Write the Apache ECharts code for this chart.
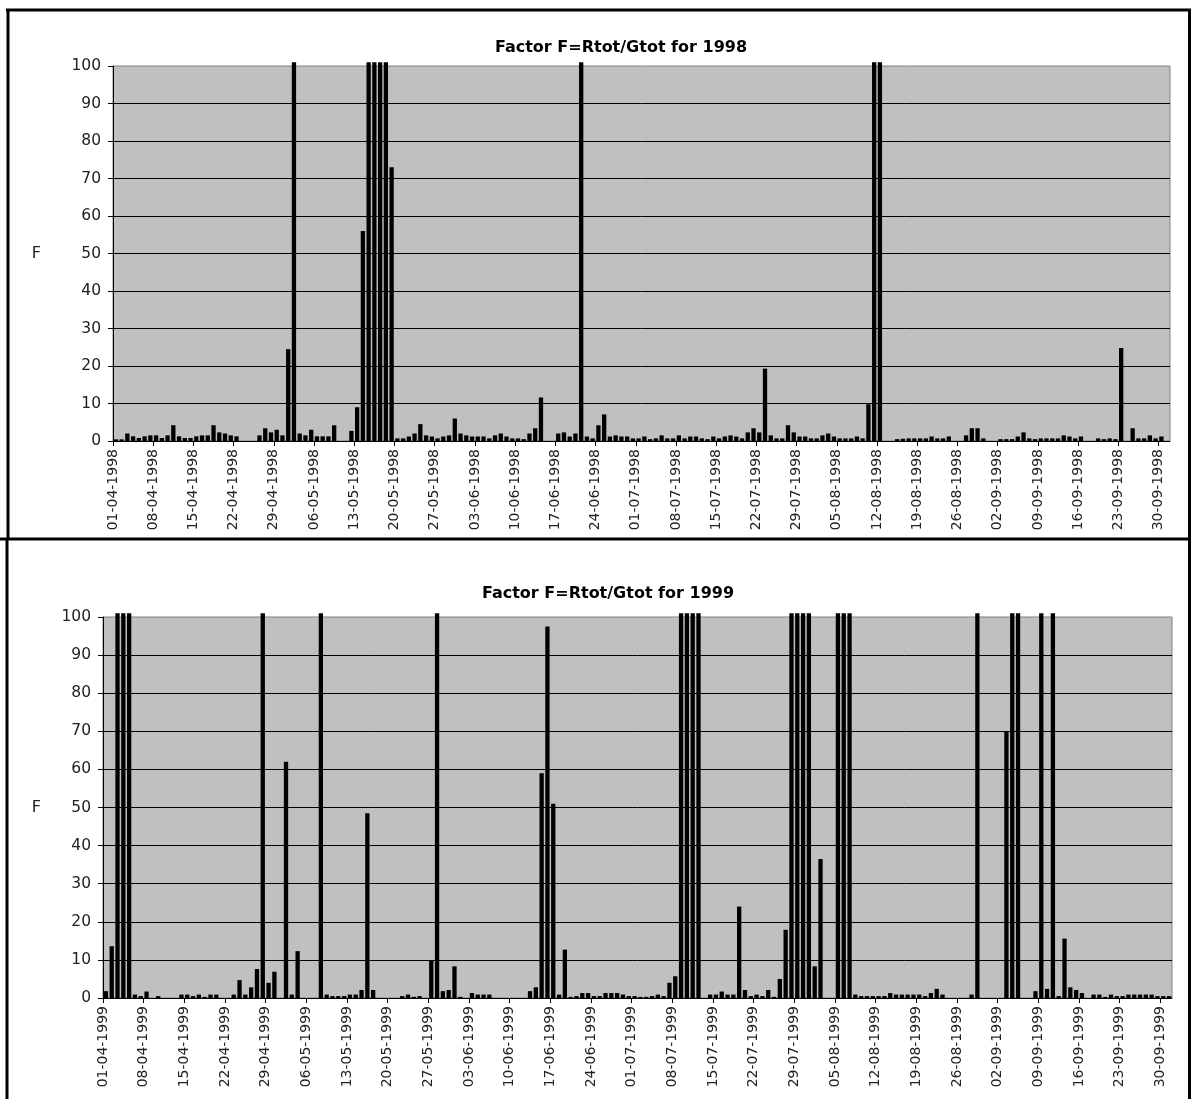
<!DOCTYPE html>
<html>
<head>
<meta charset="utf-8">
<script src="https://cdn.jsdelivr.net/npm/echarts@6/dist/echarts.min.js"></script>
<style>
html,body{margin:0;padding:0;background:#fff;}
#c{width:1191px;height:1099px;}
</style>
</head>
<body>
<div id="c"></div>
<script>
// ---- Data (daily values, 01-04 onward). 101 = off-scale (above 100), null = no bar ----
const values1998 = [
0.45,0.45,2.0,1.25,0.8,1.25,1.5,1.5,0.8,1.5,
4.2,1.25,0.8,0.8,1.25,1.5,1.5,4.2,2.3,2.0,
1.5,1.25,null,null,null,1.5,3.4,2.3,3.0,1.5,
24.5,101,2.0,1.5,3.0,1.25,1.25,1.25,4.2,null,
null,2.7,9.0,56,101,101,101,101,73,0.7,
0.7,1.2,2.0,4.5,1.5,1.2,0.7,1.2,1.5,6.0,
2.0,1.5,1.2,1.2,1.2,0.7,1.5,2.0,1.2,0.7,
0.7,0.5,2.0,3.4,11.6,null,null,2.0,2.3,1.2,
2.0,101,1.2,0.7,4.2,7.1,1.2,1.5,1.2,1.2,
0.7,0.7,1.2,0.5,0.7,1.5,0.7,0.7,1.5,0.7,
1.2,1.2,0.7,0.5,1.2,0.7,1.2,1.5,1.2,0.7,
2.3,3.4,2.3,19.3,1.5,0.7,0.7,4.2,2.3,1.2,
1.2,0.7,0.7,1.5,2.0,1.2,0.7,0.7,0.7,1.2,
0.7,9.8,101,101,null,null,0.5,0.6,0.7,0.7,
0.7,0.7,1.2,0.7,0.7,1.2,null,null,1.5,3.4,
3.4,0.7,null,null,0.5,0.5,0.5,1.2,2.3,0.7,
0.5,0.7,0.7,0.7,0.7,1.5,1.2,0.7,1.2,null,
null,0.7,0.5,0.7,0.5,24.8,null,3.4,0.7,0.7,
1.5,0.7,1.2
];
const values1999 = [
1.8,13.6,101,101,101,0.9,0.5,1.7,null,0.5,
null,null,null,0.9,0.9,0.5,0.9,0.3,0.9,0.9,
null,null,0.9,4.7,0.9,2.8,7.6,101,4.0,6.9,
null,62,0.9,12.3,null,null,null,101,0.9,0.5,
0.5,0.5,0.9,0.9,2.1,48.5,2.1,null,null,null,
null,0.5,0.9,0.3,0.5,null,9.8,101,1.8,2.1,
8.3,0.3,null,1.3,0.9,0.9,0.9,null,null,null,
null,null,null,1.8,2.8,59,97.5,51,0.9,12.7,
0.3,0.5,1.3,1.3,0.5,0.5,1.3,1.3,1.3,0.9,
0.5,0.5,0.3,0.3,0.5,0.9,0.5,4.0,5.7,101,
101,101,101,null,0.9,0.9,1.7,0.9,0.9,24,
2.1,0.5,0.9,0.5,2.1,0.3,5.0,17.9,101,101,
101,101,8.3,36.5,null,null,101,101,101,0.9,
0.5,0.5,0.5,0.5,0.5,1.3,0.9,0.9,0.9,0.9,
0.9,0.5,1.3,2.4,0.9,null,null,null,null,0.9,
101,null,null,null,null,70,101,101,null,null,
1.8,101,2.4,101,0.5,15.6,2.8,2.1,1.3,null,
0.9,0.9,0.3,0.9,0.5,0.5,0.9,0.9,0.9,0.9,
0.9,0.5,0.5,0.5
];
const ticks1998 = ['01-04-1998','08-04-1998','15-04-1998','22-04-1998','29-04-1998','06-05-1998','13-05-1998',
'20-05-1998','27-05-1998','03-06-1998','10-06-1998','17-06-1998','24-06-1998','01-07-1998','08-07-1998',
'15-07-1998','22-07-1998','29-07-1998','05-08-1998','12-08-1998','19-08-1998','26-08-1998','02-09-1998',
'09-09-1998','16-09-1998','23-09-1998','30-09-1998'];
const ticks1999 = ['01-04-1999','08-04-1999','15-04-1999','22-04-1999','29-04-1999','06-05-1999','13-05-1999',
'20-05-1999','27-05-1999','03-06-1999','10-06-1999','17-06-1999','24-06-1999','01-07-1999','08-07-1999',
'15-07-1999','22-07-1999','29-07-1999','05-08-1999','12-08-1999','19-08-1999','26-08-1999','02-09-1999',
'09-09-1999','16-09-1999','23-09-1999','30-09-1999'];
const titles = ['Factor F=Rtot/Gtot for 1998','Factor F=Rtot/Gtot for 1999'];
const yName = 'F';
const SLOTS = 184; // day slots on the date axis (01-04 .. 01-10)

const FONT = 'DejaVu Sans, Verdana, sans-serif';

function toPoints(vals){
  const out = [];
  vals.forEach((v,i)=>{ if(v!==null) out.push([i+0.5, v]); });
  return out;
}
function xAxisFor(idx, ticks){
  return {
    type:'value', gridIndex: idx, min:0, max:SLOTS, interval:7,
    axisLine:{show:true, onZero:false, lineStyle:{color:'#000', width:1}},
    axisTick:{show:true, inside:false, length:5, lineStyle:{color:'#000'}},
    splitLine:{show:false},
    axisLabel:{
      rotate:90, fontSize:14, color:'#222', fontFamily:FONT, margin:8,
      showMaxLabel:false,
      formatter:(v)=>{ const k = v/7; return (Number.isInteger(k) && ticks[k]) ? ticks[k] : ''; }
    }
  };
}
function yAxisFor(idx, gap){
  return {
    type:'value', gridIndex: idx, min:0, max:100, interval:10,
    name: yName, nameLocation:'middle', nameGap: gap, nameRotate:0,
    nameTextStyle:{fontSize:16, color:'#222', fontFamily:FONT},
    axisLine:{show:true, lineStyle:{color:'#000', width:1}},
    axisTick:{show:true, inside:false, length:5, lineStyle:{color:'#000'}},
    axisLabel:{fontSize:15.5, color:'#222', fontFamily:FONT, margin:12},
    splitLine:{show:true, showMaxLine:false, lineStyle:{color:'#000', width:1}}
  };
}

const chart = echarts.init(document.getElementById('c'), null, {renderer:'canvas'});
chart.setOption({
  animation:false,
  backgroundColor:'#fff',
  title:[
    {text:titles[0], left:616, top:35, textAlign:'center',
     textStyle:{fontSize:16, fontWeight:'bold', color:'#000', fontFamily:FONT}},
    {text:titles[1], left:603, top:581, textAlign:'center',
     textStyle:{fontSize:16, fontWeight:'bold', color:'#000', fontFamily:FONT}}
  ],
  grid:[
    {left:113, top:66, width:1057, height:375, show:true, backgroundColor:'#c0c0c0', borderColor:'#808080', borderWidth:1},
    {left:103, top:617, width:1069, height:381, show:true, backgroundColor:'#c0c0c0', borderColor:'#808080', borderWidth:1}
  ],
  xAxis:[xAxisFor(0, ticks1998), xAxisFor(1, ticks1999)],
  yAxis:[yAxisFor(0, 72), yAxisFor(1, 62)],
  series:[
    {type:'bar', xAxisIndex:0, yAxisIndex:0, data:toPoints(values1998), barWidth:4.3, clip:false,
     itemStyle:{color:'#000'}, silent:true},
    {type:'bar', xAxisIndex:1, yAxisIndex:1, data:toPoints(values1999), barWidth:4.3, clip:false,
     itemStyle:{color:'#000'}, silent:true}
  ],
  graphic:[
    {type:'line', shape:{x1:6, y1:10, x2:1191, y2:10}, style:{stroke:'#000', lineWidth:3}},
    {type:'line', shape:{x1:8, y1:9, x2:8, y2:540}, style:{stroke:'#000', lineWidth:3}},
    {type:'line', shape:{x1:1189.5, y1:9, x2:1189.5, y2:1099}, style:{stroke:'#000', lineWidth:3}},
    {type:'line', shape:{x1:0, y1:539, x2:1191, y2:539}, style:{stroke:'#000', lineWidth:3}},
    {type:'line', shape:{x1:7, y1:539, x2:7, y2:1099}, style:{stroke:'#000', lineWidth:3}}
  ]
});
</script>
</body>
</html>
